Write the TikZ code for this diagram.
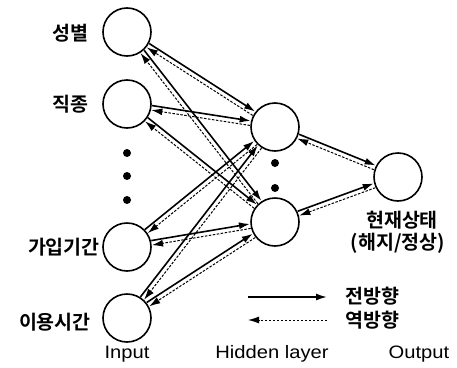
\documentclass[tikz,border=0pt]{standalone}
\usepackage{fontspec}
\setmainfont{Liberation Sans}[FakeStretch=1.12]
\newfontfamily\kr{Noto Sans CJK KR}[BoldFont={Noto Sans CJK KR Bold}]
\usetikzlibrary{arrows.meta,calc}
\tikzset{
  neuron/.style={circle,draw,line width=1.6pt,minimum size=48pt,inner sep=0pt},
  fwd/.style={line width=1.6pt,-{Latex[length=11pt,width=7pt]}},
  bwd/.style={line width=1pt,dash pattern=on 2.5pt off 1.5pt,-{Latex[length=11pt,width=7pt]}},
  krlab/.style={font=\kr\bfseries\fontsize{19.5}{22}\selectfont,inner sep=0pt},
  enlab/.style={font=\fontsize{18}{20}\selectfont,inner sep=0pt},
  dotfill/.style={circle,fill,minimum size=8pt,inner sep=0pt}
}
\newcommand\nnlink[2]{%
  \draw[fwd] ($(#1)!25pt!(#2)!2.3pt!90:(#2)$) -- ($(#2)!25pt!(#1)!2.3pt!-90:(#1)$);
  \draw[bwd] ($(#2)!25pt!(#1)!2.3pt!90:(#1)$) -- ($(#1)!25pt!(#2)!2.3pt!-90:(#2)$);
}
\begin{document}
\begin{tikzpicture}[x=1pt,y=-1pt]
\useasboundingbox (0,0) rectangle (457,367);
% input layer
\node[neuron] (i1) at (127,32) {};
\node[neuron] (i2) at (127,104) {};
\node[neuron] (i3) at (127,247) {};
\node[neuron] (i4) at (127,318) {};
\node[dotfill] (d1) at (127,153) {};
\node[dotfill] (d2) at (127,176) {};
\node[dotfill] (d3) at (127,200) {};
% hidden layer
\node[neuron] (h1) at (275,127) {};
\node[neuron] (h2) at (275,222) {};
\node[dotfill] (d4) at (275,163) {};
\node[dotfill] (d5) at (275,188) {};
% output
\node[neuron] (o) at (398,177) {};
% labels
\node[krlab,anchor=east] (t1) at (89,33) {성별};
\node[krlab,anchor=east] (t2) at (89,104) {직종};
\node[krlab,anchor=east] (t3) at (100,247) {가입기간};
\node[krlab,anchor=east] (t4) at (91,322) {이용시간};
\node[krlab] (t5) at (402,220) {현재상태};
\node[krlab] (t6) at (398,243) {(해지/정상)};
\node[enlab] (e1) at (127,354) {Input};
\node[enlab] (e2) at (272,354) {Hidden layer};
\node[enlab] (e3) at (419,354) {Output};
% connections
\foreach \a in {i1,i2,i3,i4}{\foreach \b in {h1,h2}{\nnlink{\a}{\b}}}
\nnlink{h1}{o}
\nnlink{h2}{o}
% legend
\coordinate (la) at (248,297);
\coordinate (lb) at (327,297);
\coordinate (lc) at (248,320);
\coordinate (ld) at (327,320);
\draw[fwd] (la) -- (lb);
\draw[bwd] (ld) -- (lc);
\node[krlab,anchor=west] (t7) at (345,296) {전방향};
\node[krlab,anchor=west] (t8) at (345,320) {역방향};
\end{tikzpicture}
\end{document}
